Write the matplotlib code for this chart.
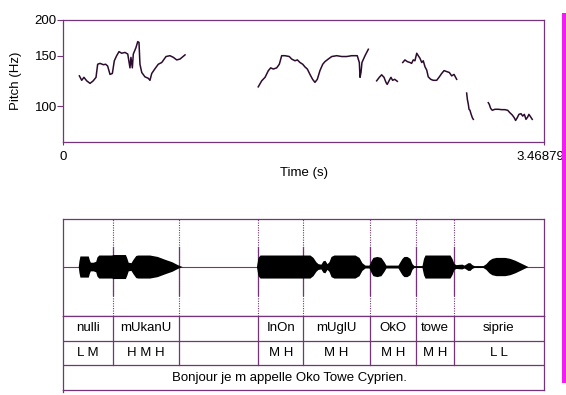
import matplotlib
matplotlib.use("Agg")
import matplotlib.pyplot as plt
import matplotlib.transforms as mtransforms
from matplotlib.patches import Rectangle
from matplotlib.ticker import FixedLocator, FixedFormatter, NullLocator

plt.rcParams["font.family"] = ["Liberation Sans", "DejaVu Sans"]

DUR = 3.46879

# ── pitch contour (s, Hz), one list per voiced stretch ─────────────────────
pitch_t = [
    [0.118, 0.135, 0.151, 0.171, 0.195, 0.218, 0.238, 0.250, 0.267, 0.291, 0.308,
     0.322, 0.339, 0.356, 0.370, 0.387, 0.404, 0.423, 0.447, 0.467, 0.483, 0.490,
     0.500, 0.507, 0.526, 0.539, 0.548, 0.555, 0.568, 0.591, 0.615, 0.627, 0.640,
     0.663, 0.687, 0.712, 0.743, 0.771, 0.796, 0.820, 0.844, 0.880],
    [1.408, 1.433, 1.457, 1.481, 1.498, 1.517, 1.541, 1.560, 1.577, 1.601, 1.632,
     1.649, 1.673, 1.690, 1.709, 1.729, 1.745, 1.762, 1.781, 1.800, 1.817, 1.834,
     1.853, 1.873, 1.889, 1.913, 1.938, 1.974, 2.010, 2.046, 2.082, 2.122, 2.137,
     2.142, 2.149, 2.156, 2.178, 2.202],
    [2.262, 2.281, 2.298, 2.315, 2.329, 2.338, 2.353, 2.365, 2.377, 2.392, 2.411],
    [2.450, 2.466, 2.483, 2.502, 2.514, 2.526, 2.538, 2.551, 2.562, 2.574, 2.587,
     2.598, 2.611, 2.623, 2.634, 2.652, 2.670, 2.695, 2.714, 2.731, 2.748, 2.767,
     2.786, 2.803, 2.820, 2.839],
    [2.911, 2.916, 2.923, 2.928, 2.935, 2.942, 2.952, 2.959],
    [3.067, 3.074, 3.084, 3.096, 3.115, 3.139, 3.164, 3.187, 3.207, 3.223, 3.240,
     3.254, 3.264, 3.276, 3.288, 3.303, 3.315, 3.327, 3.339, 3.351, 3.360, 3.373,
     3.384],
]
pitch_hz = [
    [127.5, 123, 126, 122.5, 120, 122.5, 126, 140, 141, 139.5, 140,
     138, 129, 130, 144, 150, 155, 153, 154, 152, 136, 148,
     136, 152, 160, 168, 167, 140, 131, 126.5, 125, 123, 130,
     135, 140, 142, 149, 150, 148, 145, 146, 151],
    [116.7, 122.5, 126, 133, 136, 134.7, 136, 140, 150, 150, 149,
     146, 144, 145, 142, 140, 137, 134.7, 129, 124, 121, 124,
     133, 140, 143, 146, 149, 150, 149, 149, 150, 150, 142,
     126, 131, 142, 150, 158],
    [122.5, 126, 128.6, 126, 121, 119, 123, 126, 123, 124, 122],
    [142, 145, 143, 142, 141, 145, 144, 153, 150, 147, 142,
     144, 137, 133.6, 126.5, 124, 123, 123, 126.5, 130, 133, 132,
     131, 127.5, 129, 124],
    [111, 105.6, 101.4, 97.4, 96.6, 94, 91, 89.8],
    [102.7, 101.4, 98.1, 96.6, 97.4, 97.4, 97.1, 97.1, 96.6, 94.7, 93,
     91, 89, 91, 93.5, 94, 92.2, 93.5, 89.8, 91.5, 93.5, 91.5,
     89.8],
]
pitch_ticks = [100, 150, 200]

# ── waveform envelope (s, relative amplitude) ──────────────────────────────
wave_t = [0.0, 0.110, 0.115, 0.122, 0.182, 0.190, 0.197, 0.218, 0.236, 0.245, 0.258,
          0.350, 0.362, 0.450, 0.460, 0.470, 0.490, 0.505, 0.525, 0.540, 0.625,
          0.680, 0.735, 0.785, 0.825, 0.850, 0.860,
          1.395, 1.406, 1.421, 1.781, 1.803, 1.824, 1.839, 1.860, 1.875, 1.889,
          1.904, 1.918, 1.933, 1.954, 2.106, 2.135, 2.156, 2.178, 2.207, 2.221,
          2.235, 2.264, 2.293, 2.315, 2.329, 2.416, 2.430, 2.445, 2.459, 2.481,
          2.502, 2.517, 2.531, 2.589, 2.600, 2.611, 2.791, 2.805, 2.820, 2.834,
          2.877, 2.892, 2.910, 2.920, 2.935, 2.949, 2.964, 3.029, 3.050, 3.072,
          3.093, 3.123, 3.187, 3.223, 3.260, 3.296, 3.325, 3.346, 3.353, DUR]
wave_amp = [0.0, 0.0, 0.12, 0.22, 0.22, 0.14, 0.09, 0.09, 0.11, 0.20, 0.24,
            0.24, 0.25, 0.25, 0.18, 0.09, 0.08, 0.15, 0.23, 0.24, 0.24,
            0.21, 0.15, 0.10, 0.04, 0.01, 0.0,
            0.0, 0.19, 0.24, 0.24, 0.19, 0.10, 0.06, 0.05, 0.12, 0.13,
            0.06, 0.10, 0.21, 0.24, 0.24, 0.19, 0.08, 0.03, 0.03, 0.12,
            0.19, 0.21, 0.19, 0.10, 0.03, 0.03, 0.10, 0.17, 0.21, 0.21,
            0.17, 0.06, 0.02, 0.02, 0.17, 0.24, 0.24, 0.17, 0.06, 0.04,
            0.05, 0.03, 0.06, 0.08, 0.08, 0.04, 0.02, 0.02, 0.06, 0.13,
            0.17, 0.19, 0.19, 0.17, 0.13, 0.08, 0.04, 0.01, 0.0, 0.0]

# ── TextGrid ───────────────────────────────────────────────────────────────
bounds = [0.358, 0.839, 1.408, 1.733, 2.213, 2.543, 2.819]
words = ["nulli", "mUkanU", "", "InOn", "mUglU", "OkO", "towe", "siprie"]
tones = ["L M", "H M H", "", "M H", "M H", "M H", "M H", "L L"]
sentence = "Bonjour je m appelle Oko Towe Cyprien."

FRAME = "#74347a"
CURVE = "#2c0c2e"
FS = 9.5
W, H = 566, 395


def rect(left, top, right, bottom):
    return [left / W, 1 - bottom / H, (right - left) / W, (bottom - top) / H]


fig = plt.figure(figsize=(W / 100, H / 100), dpi=100)

# ── pitch panel ────────────────────────────────────────────────────────────
ax_p = fig.add_axes(rect(63, 20, 544, 141.7))
for ts, fs in zip(pitch_t, pitch_hz):
    ax_p.plot(ts, fs, color=CURVE, lw=1.1)
ax_p.set_yscale("log")
ax_p.set_xlim(0, DUR)
ax_p.set_ylim(75, 200)
ax_p.yaxis.set_major_locator(FixedLocator(pitch_ticks))
ax_p.yaxis.set_major_formatter(FixedFormatter([str(v) for v in pitch_ticks]))
ax_p.yaxis.set_minor_locator(NullLocator())
ax_p.set_xticks([0, DUR])
ax_p.set_xticklabels(["0", "3.46879"])
ax_p.tick_params(axis="y", length=4, width=0.8, pad=0.5, colors=FRAME,
                 labelcolor="black", labelsize=FS)
ax_p.tick_params(axis="x", length=2.5, width=0.8, pad=4, colors=FRAME,
                 labelcolor="black", labelsize=FS)
# keep the end label inside the figure
shift = mtransforms.ScaledTranslation(-4 / 100, 0, fig.dpi_scale_trans)
end_lbl = ax_p.get_xticklabels()[1]
end_lbl.set_transform(end_lbl.get_transform() + shift)
for sp in ax_p.spines.values():
    sp.set_color(FRAME)
    sp.set_linewidth(0.9)
ax_p.set_ylabel("Pitch (Hz)", fontsize=FS, labelpad=9)
ax_p.set_xlabel("Time (s)", fontsize=FS, labelpad=3)

# ── waveform panel ─────────────────────────────────────────────────────────
ax_w = fig.add_axes(rect(63, 219, 544, 316))
ax_w.fill_between(wave_t, [-a for a in wave_amp], wave_amp, color="black", lw=0,
                  zorder=3)
ax_w.axhline(0, color=FRAME, lw=0.8, zorder=2)
for b in bounds:
    ax_w.axvline(b, color=FRAME, lw=0.8, ls=(0, (1, 1.2)), zorder=1)
    ax_w.plot([b, b], [-0.59, 0.41], color=FRAME, lw=0.9, zorder=2)
ax_w.set_xlim(0, DUR)
ax_w.set_ylim(-1.03, 0.99)
ax_w.set_xticks([])
ax_w.set_yticks([])
for sp in ax_w.spines.values():
    sp.set_color(FRAME)
    sp.set_linewidth(0.9)

# ── tiers ──────────────────────────────────────────────────────────────────
ax_t = fig.add_axes(rect(63, 316, 544, 390))
ax_t.set_xlim(0, DUR)
ax_t.set_ylim(0, 3)
ax_t.set_xticks([])
ax_t.set_yticks([])
for sp in ax_t.spines.values():
    sp.set_color(FRAME)
    sp.set_linewidth(0.9)
ax_t.axhline(1, color=FRAME, lw=0.9)
ax_t.axhline(2, color=FRAME, lw=0.9)
for b in bounds:
    ax_t.plot([b, b], [1, 3], color=FRAME, lw=0.9)
edges = [0] + bounds + [DUR]
for i in range(len(words)):
    mid = (edges[i] + edges[i + 1]) / 2
    ax_t.text(mid, 2.5, words[i], ha="center", va="center", fontsize=FS)
    ax_t.text(mid, 1.5, tones[i], ha="center", va="center", fontsize=FS)
ax_t.text(DUR / 2 - 0.1, 0.5, sentence, ha="center", va="center", fontsize=FS)
# the left edge runs a bit below the last tier
ax_t.plot([0, 0], [0, -0.1], color=FRAME, lw=0.9, clip_on=False)

# magenta margin bar on the right
fig.add_artist(Rectangle((561.5 / W, 1 - 383 / H), 4 / W, 370 / H,
                         transform=fig.transFigure, color="#f01cf0", lw=0, zorder=10))

fig.savefig("out.png", dpi=100)
